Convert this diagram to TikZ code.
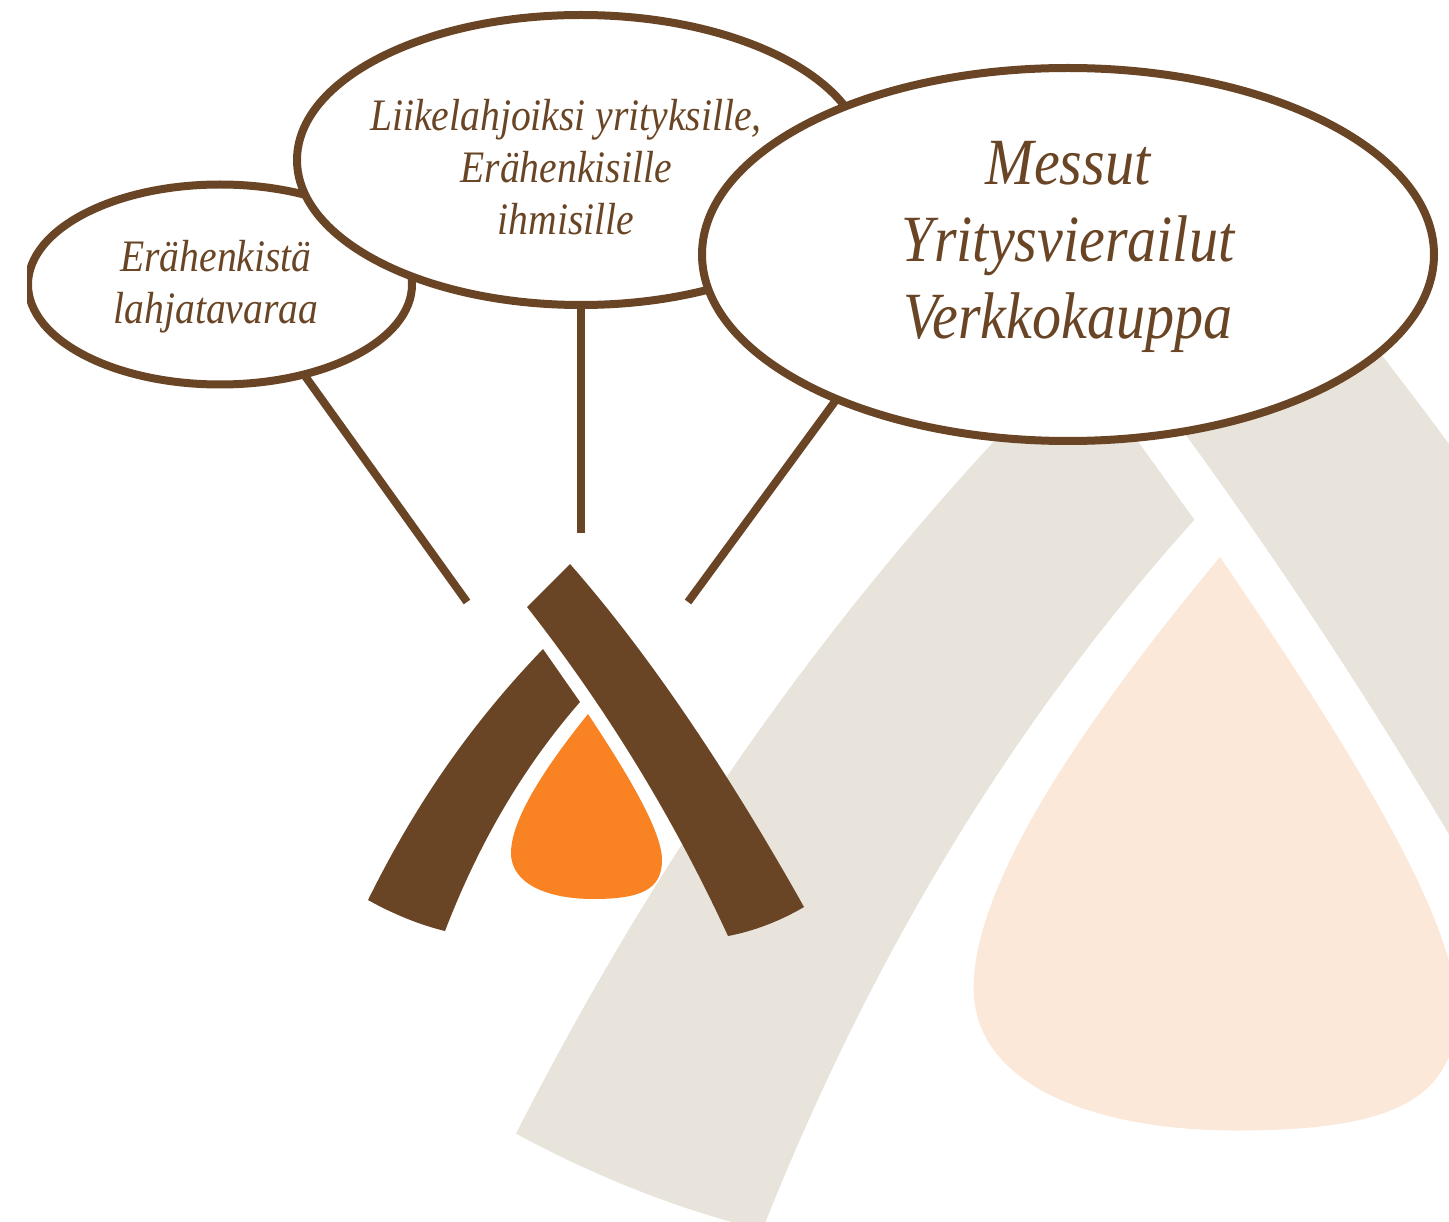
\documentclass[tikz,border=0pt]{standalone}
\usepackage{fontspec}
\usetikzlibrary{shapes.geometric}
\setmainfont{Liberation Serif}
\newfontfamily\handfont[ItalicFont={Liberation Serif Italic},FakeStretch=0.88]{Liberation Serif}
\definecolor{logbrown}{HTML}{6A4525}
\definecolor{flameorange}{HTML}{F98222}
\definecolor{paleLog}{HTML}{E8E3DB}
\definecolor{paleFlame}{HTML}{FBE8D8}
\newcommand{\logoshapes}[2]{%
  \fill[#1] (570,564) .. controls (650,655) and (730,775) .. (804,907)
     .. controls (782,920) and (755,931) .. (728,936)
     .. controls (670,810) and (600,700) .. (527,607) -- cycle;
  \fill[#1] (543,649) -- (580,702) .. controls (525,765) and (480,840) .. (445,931)
     .. controls (420,925) and (393,914) .. (368,900)
     .. controls (415,805) and (470,725) .. (543,649) -- cycle;
  \fill[#2] (588,714) .. controls (555,755) and (511,815) .. (511,853)
     .. controls (511,885) and (550,899) .. (593,899)
     .. controls (640,899) and (662,890) .. (662,860)
     .. controls (662,830) and (625,770) .. (588,714) -- cycle;
}
\tikzset{
  bubble/.style={ellipse,draw=logbrown,fill=white,line width=8pt,inner sep=0pt,outer sep=0pt},
  connector/.style={draw=logbrown,line width=8pt},
  smalltext/.style={text=logbrown,align=center,inner sep=0pt,font=\handfont\itshape\fontsize{45pt}{52pt}\selectfont},
  bigtext/.style={text=logbrown,align=center,inner sep=0pt,font=\handfont\itshape\fontsize{66pt}{77pt}\selectfont},
}
\begin{document}
\begin{tikzpicture}[x=1pt,y=-1pt]
\useasboundingbox (0,0) rectangle (1449,1222);
\begin{scope}
  \clip (0,0) rectangle (1449,1222);
  \begin{scope}[shift={(1220,557)},xscale=3.2,yscale=3.1,shift={(-588,-714)}]
    \logoshapes{paleLog}{paleFlame}
  \end{scope}
\end{scope}
\logoshapes{logbrown}{flameorange}
\coordinate (endL) at (467,602);
\coordinate (endM) at (581,533);
\coordinate (endR) at (688,602);
\begin{scope}
  \clip (27,0) rectangle (1449,1222);
  \node[bubble,minimum width=384pt,minimum height=200pt] (bubL) at (220,284.5) {};
\end{scope}
\node[bubble,minimum width=568pt,minimum height=290pt] (bubM) at (581,160) {};
\node[bubble,minimum width=732pt,minimum height=373pt] (bubR) at (1068,254.5) {};
\draw[connector] (bubL.-47.9) -- (endL);
\draw[connector] (bubM.south) -- (endM);
\draw[connector] (bubR.212.2) -- (endR);
\node[smalltext] (tL) at (216,287) {Erähenkistä\\lahjatavaraa};
\node[smalltext] (tM) at (566,167) {Liikelahjoiksi yrityksille,\\Erähenkisille\\ihmisille};
\node[bigtext] (tR) at (1068,246.5) {Messut\\Yritysvierailut\\Verkkokauppa};
\end{tikzpicture}
\end{document}
